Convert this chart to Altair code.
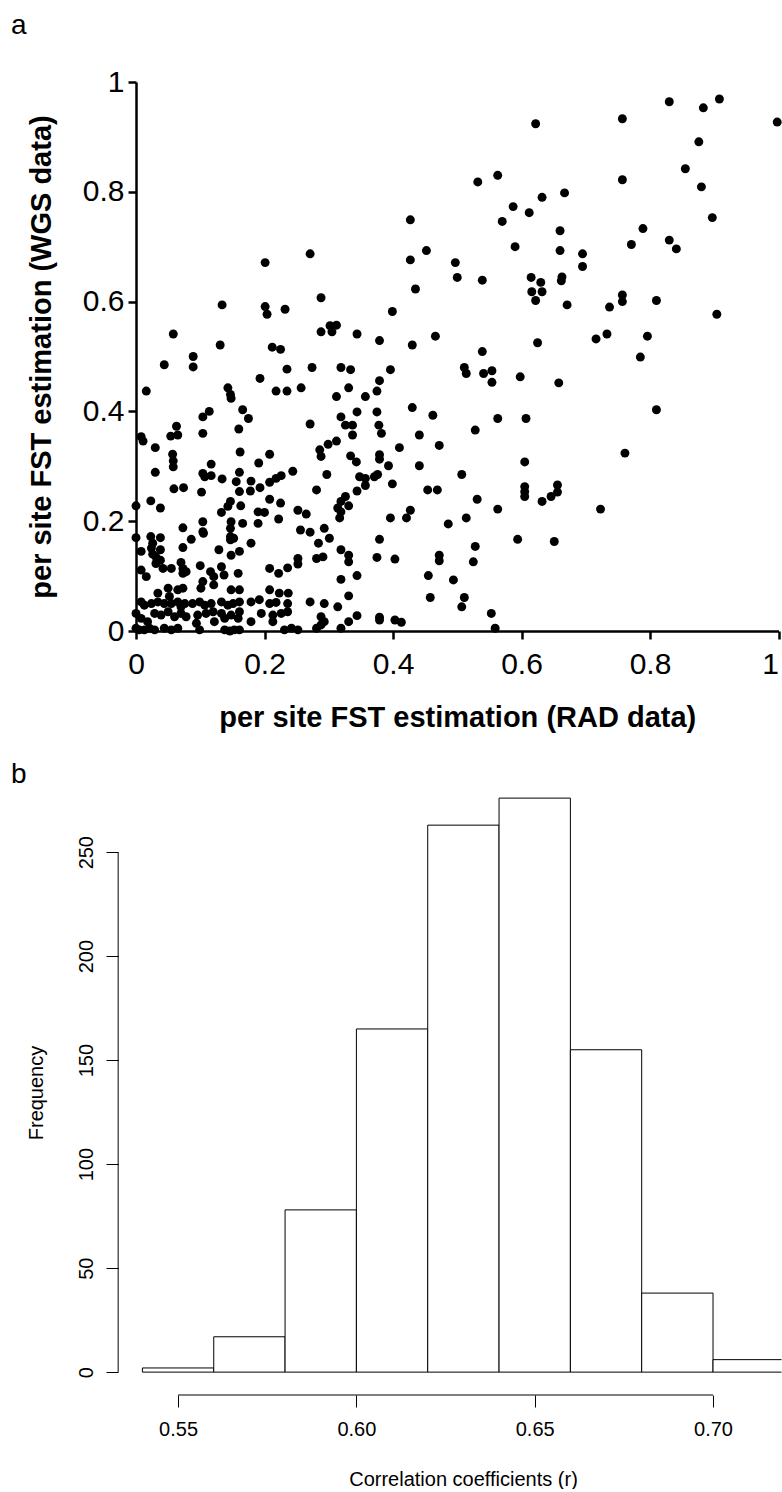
import altair as alt
import pandas as pd

FONT = "Liberation Sans"

# ---------------- panel a: per-site FST, RAD (x) vs WGS (y) ----------------
rad = [
    0.058, 0.089, 0.089, 0.131, 0.134, 0.201, 0.201, 0.204, 0.232, 0.212, 0.225, 0.271, 0.288, 0.288, 0.302, 0.312, 0.305,
    0.622, 0.532, 0.563, 0.632, 0.587, 0.612, 0.570, 0.427, 0.590, 0.452, 0.427, 0.497, 0.500, 0.539, 0.435, 0.615, 0.630,
    0.616, 0.632, 0.622, 0.399, 0.344, 0.379, 0.430, 0.466, 0.539, 0.625,
    0.830, 0.883, 0.908, 0.998, 0.757, 0.876, 0.855, 0.757, 0.880, 0.667, 0.897, 0.660, 0.789, 0.771, 0.830, 0.841, 0.660,
    0.695, 0.695, 0.663, 0.662, 0.671, 0.737, 0.757, 0.757, 0.810, 0.904, 0.716, 0.733, 0.796, 0.785,
    0.658, 0.810, 0.761, 0.656, 0.656, 0.723, 0.651,
    0.319, 0.334, 0.396, 0.379, 0.331, 0.375, 0.357, 0.511, 0.514, 0.541, 0.554, 0.554, 0.598, 0.430, 0.462, 0.563, 0.607,
    0.344, 0.375, 0.319, 0.326, 0.337, 0.378, 0.337, 0.382, 0.441, 0.528, 0.410, 0.472, 0.334, 0.343, 0.379, 0.379, 0.393,
    0.441, 0.605, 0.507, 0.348, 0.357, 0.371, 0.376, 0.357, 0.344, 0.399, 0.454, 0.469, 0.531, 0.605, 0.605, 0.605, 0.632,
    0.646, 0.326, 0.319, 0.331, 0.319, 0.317, 0.563, 0.396, 0.421, 0.427, 0.486, 0.514, 0.379, 0.594, 0.528, 0.319, 0.331,
    0.331, 0.375, 0.403, 0.472, 0.472, 0.525, 0.319, 0.344, 0.455, 0.494, 0.331, 0.458, 0.511, 0.507, 0.344, 0.331, 0.379,
    0.379, 0.403, 0.413, 0.553, 0.559,
    0.044, 0.235, 0.274, 0.193, 0.016, 0.143, 0.147, 0.148, 0.218, 0.235, 0.257, 0.312, 0.114, 0.104, 0.166, 0.175, 0.063,
    0.065, 0.054, 0.008, 0.011, 0.104, 0.160, 0.271, 0.299, 0.312, 0.030, 0.057, 0.058, 0.058, 0.117, 0.162, 0.191, 0.208,
    0.286, 0.288, 0.244, 0.297, 0.030, 0.104, 0.107, 0.117, 0.134, 0.161, 0.156, 0.179, 0.178, 0.193, 0.208, 0.218, 0.226,
    0.059, 0.074, 0.102, 0.161, 0.281, 0.314, 0.023, 0.038, 0.000, 0.147, 0.143, 0.133, 0.163, 0.190, 0.200, 0.222, 0.252,
    0.265, 0.256, 0.271, 0.293, 0.301, 0.284, 0.281, 0.291, 0.148, 0.147, 0.147, 0.152, 0.147, 0.166, 0.179, 0.104, 0.104,
    0.105, 0.073, 0.086, 0.000, 0.023, 0.038, 0.026, 0.024, 0.008, 0.026, 0.031, 0.038, 0.038, 0.031, 0.073, 0.129, 0.070,
    0.073, 0.078, 0.073, 0.055, 0.042, 0.008, 0.016, 0.100, 0.104, 0.116, 0.121, 0.121, 0.133, 0.137, 0.159, 0.208, 0.222,
    0.236, 0.252, 0.252,
    0.034, 0.065, 0.073, 0.101, 0.148, 0.161, 0.208, 0.223, 0.237, 0.008, 0.013, 0.024, 0.034, 0.044, 0.055, 0.065, 0.070,
    0.076, 0.088, 0.099, 0.107, 0.117, 0.133, 0.143, 0.151, 0.161, 0.179, 0.192, 0.208, 0.218, 0.236, 0.271, 0.293, 0.314,
    0.000, 0.008, 0.018, 0.029, 0.039, 0.050, 0.060, 0.070, 0.078, 0.096, 0.109, 0.120, 0.133, 0.138, 0.148, 0.161, 0.159,
    0.195, 0.213, 0.226, 0.236, 0.179, 0.213, 0.288, 0.293, 0.000, 0.005, 0.013, 0.021, 0.029, 0.044, 0.055, 0.065, 0.094,
    0.099, 0.122, 0.138, 0.146, 0.153, 0.161, 0.231, 0.242, 0.252, 0.281, 0.288, 0.319,
    0.050, 0.052, 0.148, 0.208, 0.225, 0.190, 0.161,
]
wgs = [
    0.541, 0.500, 0.481, 0.521, 0.594, 0.671, 0.591, 0.577, 0.586, 0.517, 0.513, 0.687, 0.607, 0.545, 0.556, 0.557, 0.545,
    0.924, 0.818, 0.830, 0.790, 0.773, 0.762, 0.746, 0.749, 0.700, 0.693, 0.676, 0.671, 0.644, 0.639, 0.623, 0.644, 0.635,
    0.618, 0.618, 0.602, 0.582, 0.541, 0.529, 0.521, 0.537, 0.509, 0.525,
    0.964, 0.953, 0.969, 0.927, 0.933, 0.891, 0.842, 0.822, 0.809, 0.798, 0.753, 0.729, 0.733, 0.704, 0.712, 0.696, 0.693,
    0.687, 0.664, 0.645, 0.638, 0.594, 0.590, 0.612, 0.600, 0.602, 0.577, 0.532, 0.541, 0.537, 0.499,
    0.452, 0.403, 0.324, 0.266, 0.253, 0.222, 0.163,
    0.480, 0.476, 0.476, 0.456, 0.443, 0.437, 0.427, 0.480, 0.469, 0.469, 0.474, 0.453, 0.463, 0.407, 0.393, 0.387, 0.387,
    0.399, 0.399, 0.390, 0.375, 0.375, 0.375, 0.357, 0.360, 0.357, 0.366, 0.334, 0.338, 0.319, 0.308, 0.321, 0.313, 0.301,
    0.301, 0.308, 0.285, 0.281, 0.278, 0.281, 0.285, 0.265, 0.255, 0.268, 0.257, 0.257, 0.240, 0.263, 0.254, 0.245, 0.236,
    0.245, 0.245, 0.236, 0.228, 0.217, 0.206, 0.222, 0.206, 0.206, 0.220, 0.195, 0.206, 0.167, 0.167, 0.154, 0.148, 0.138,
    0.126, 0.134, 0.131, 0.138, 0.128, 0.126, 0.094, 0.101, 0.101, 0.093, 0.064, 0.061, 0.061, 0.044, 0.028, 0.017, 0.025,
    0.020, 0.020, 0.016, 0.032, 0.005,
    0.485, 0.477, 0.480, 0.460, 0.437, 0.443, 0.431, 0.424, 0.437, 0.437, 0.443, 0.427, 0.400, 0.390, 0.403, 0.387, 0.373,
    0.357, 0.355, 0.354, 0.346, 0.360, 0.368, 0.377, 0.340, 0.346, 0.334, 0.322, 0.310, 0.299, 0.304, 0.326, 0.306, 0.322,
    0.330, 0.318, 0.291, 0.285, 0.289, 0.287, 0.281, 0.283, 0.277, 0.289, 0.272, 0.273, 0.255, 0.261, 0.271, 0.278, 0.283,
    0.259, 0.261, 0.253, 0.254, 0.257, 0.224, 0.237, 0.224, 0.228, 0.236, 0.227, 0.216, 0.228, 0.217, 0.216, 0.204, 0.220,
    0.213, 0.184, 0.180, 0.187, 0.169, 0.160, 0.132, 0.135, 0.199, 0.187, 0.172, 0.169, 0.166, 0.196, 0.160, 0.199, 0.181,
    0.178, 0.188, 0.167, 0.170, 0.172, 0.170, 0.160, 0.151, 0.145, 0.140, 0.135, 0.148, 0.129, 0.123, 0.152, 0.148, 0.125,
    0.114, 0.108, 0.105, 0.114, 0.114, 0.111, 0.099, 0.119, 0.090, 0.108, 0.099, 0.084, 0.117, 0.102, 0.105, 0.114, 0.105,
    0.115, 0.122, 0.132,
    0.069, 0.075, 0.078, 0.078, 0.075, 0.075, 0.075, 0.069, 0.069, 0.053, 0.047, 0.050, 0.053, 0.050, 0.050, 0.053, 0.044,
    0.050, 0.050, 0.053, 0.047, 0.050, 0.053, 0.047, 0.050, 0.053, 0.053, 0.057, 0.050, 0.052, 0.050, 0.053, 0.050, 0.044,
    0.032, 0.023, 0.017, 0.032, 0.029, 0.035, 0.026, 0.032, 0.026, 0.029, 0.032, 0.035, 0.032, 0.023, 0.029, 0.035, 0.023,
    0.032, 0.029, 0.032, 0.035, 0.017, 0.017, 0.026, 0.017, 0.005, 0.002, 0.002, 0.005, 0.002, 0.005, 0.002, 0.005, 0.014,
    0.002, 0.017, 0.002, 0.000, 0.002, 0.002, 0.002, 0.005, 0.002, 0.005, 0.011, 0.005,
    0.078, 0.063, 0.138, 0.240, 0.233, 0.196, 0.145,
]
fst_ticks = [0, 0.2, 0.4, 0.6, 0.8, 1]

# ---------------- panel b: histogram of correlation coefficients ----------------
bin_start = [0.54, 0.56, 0.58, 0.60, 0.62, 0.64, 0.66, 0.68, 0.70]
bin_end = [0.56, 0.58, 0.60, 0.62, 0.64, 0.66, 0.68, 0.70, 0.72]
counts = [2, 17, 78, 165, 263, 276, 155, 38, 6]
r_ticks = [0.55, 0.60, 0.65, 0.70]
freq_ticks = [0, 50, 100, 150, 200, 250]

X_DOMAIN_B = [0.5382, 0.7192]   # visible part of the R plot region
X_AXIS_POS_B = 0.5332           # where R drew the y axis (left edge of its plot region)
Y_DOMAIN_B = [-11.0, 279.9]

n = min(len(rad), len(wgs))
pts = pd.DataFrame({"rad": rad[:n], "wgs": wgs[:n]})

scatter = alt.Chart(
    pts,
    title=alt.TitleParams("a", anchor="start", frame="group", dx=-125, offset=5,
                          fontSize=28, fontWeight="normal", font=FONT, color="black",
                          baseline="alphabetic"),
).mark_circle(size=80, color="black", opacity=1).encode(
    x=alt.X("rad:Q", scale=alt.Scale(domain=[0, 1], nice=False, zero=False),
            axis=alt.Axis(values=fst_ticks, format=".1~f", title="per site FST estimation (RAD data)",
                          labelFlush=False, labelOverlap=False, labelPadding=10,
                          labelAlign={"condition": {"test": "datum.value == 1", "value": "right"}, "value": "center"},
                          titlePadding=24)),
    y=alt.Y("wgs:Q", scale=alt.Scale(domain=[0, 1], nice=False, zero=False),
            axis=alt.Axis(values=fst_ticks, format=".1~f", title="per site FST estimation (WGS data)",
                          labelFlush=False, labelOverlap=False, labelPadding=4, titlePadding=26)),
).properties(width=642.5, height=549)

hist_df = pd.DataFrame({"start": bin_start, "end": bin_end, "count": counts, "base": [0] * len(counts)})

bars = alt.Chart(hist_df).mark_rect(fill="white", stroke="black", strokeWidth=1, clip=True).encode(
    x=alt.X("start:Q", scale=alt.Scale(domain=X_DOMAIN_B, nice=False, zero=False),
            axis=alt.Axis(values=r_ticks, format=".2f", title="Correlation coefficients (r)",
                          domain=False, tickSize=12, tickWidth=1, labelFontSize=20, labelPadding=12,
                          titleFontSize=20, titleFontWeight="normal", titlePadding=30, titleX=327,
                          labelFlush=False, labelOverlap=False)),
    x2="end:Q",
    y=alt.Y("count:Q", scale=alt.Scale(domain=Y_DOMAIN_B, nice=False, zero=False),
            axis=alt.Axis(values=freq_ticks, title="Frequency", offset=18, domain=False,
                          tickSize=12, tickWidth=1, labelFontSize=20, labelAngle=270,
                          labelAlign="center", labelBaseline="bottom", labelPadding=10,
                          titleFontSize=20, titleFontWeight="normal", titlePadding=30,
                          labelOverlap=False, labelFlush=False)),
    y2="base:Q",
)

axis_df = pd.DataFrame({
    "x0": [min(r_ticks), X_AXIS_POS_B],
    "x1": [max(r_ticks), X_AXIS_POS_B],
    "y0": [Y_DOMAIN_B[0], min(freq_ticks)],
    "y1": [Y_DOMAIN_B[0], max(freq_ticks)],
})
axis_lines = alt.Chart(axis_df).mark_rule(color="black", strokeWidth=1).encode(
    x="x0:Q", x2="x1:Q", y="y0:Q", y2="y1:Q"
)

hist = alt.layer(
    bars, axis_lines,
    title=alt.TitleParams("b", anchor="start", frame="group", dx=-125, dy=25, offset=4,
                          fontSize=28, fontWeight="normal", font=FONT, color="black",
                          baseline="alphabetic"),
).properties(width=645.5, height=605)

chart = alt.vconcat(scatter, hist, spacing=29).properties(
    padding={"left": 11, "top": 12, "right": 0, "bottom": 0}
).configure(
    font=FONT,
).configure_view(
    stroke=None
).configure_axis(
    grid=False,
    domainColor="black", domainWidth=2.5,
    tickColor="black", tickWidth=2.5, tickSize=8,
    labelColor="black", labelFont=FONT, labelFontSize=30,
    titleColor="black", titleFont=FONT, titleFontSize=29, titleFontWeight="bold",
)

chart.save("out.html", embed_options={"renderer": "svg", "actions": False})
